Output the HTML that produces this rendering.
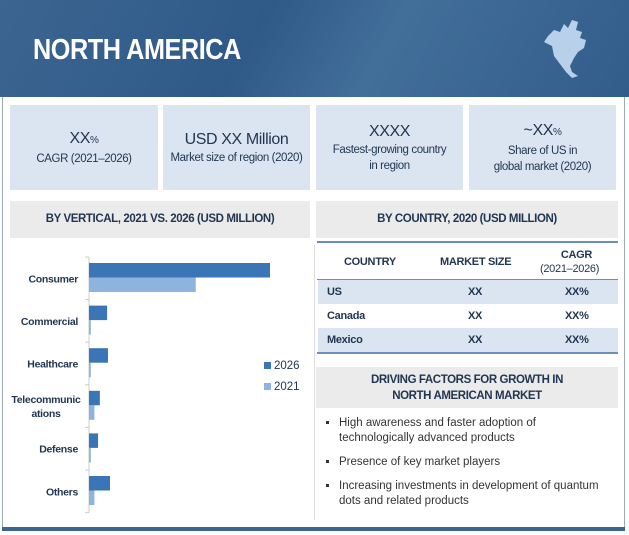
<!DOCTYPE html>
<html><head><meta charset="utf-8"><style>
body{margin:0;width:629px;height:535px;background:#fff;font-family:"Liberation Sans",sans-serif;position:relative;overflow:hidden;color:#1f3550}
.abs{position:absolute}
.kpi{position:absolute;top:105px;height:85px;background:#dbe5f1;text-align:center;color:#1f3550;font-size:11.5px;letter-spacing:-0.4px;line-height:16px;display:flex;flex-direction:column;justify-content:center;white-space:nowrap}
.sec{position:absolute;background:#ebebeb;text-align:center;font-weight:bold;font-size:11.5px;letter-spacing:-0.4px;color:#1f3550}
.row{position:absolute;left:318px;width:300px;height:24px;font-size:11px;font-weight:bold;line-height:24px;letter-spacing:-0.3px}
.row span{position:absolute}
li{margin-bottom:9px}
</style></head><body>
<div class="abs" style="left:0;top:0;width:629px;height:97px;background:linear-gradient(120deg,#3c6591 0%,#2f5a88 40%,#426e9a 60%,#325d8b 100%)">
<div class="abs" style="left:33px;top:34px;color:#fff;font-weight:bold;font-size:29px;letter-spacing:-0.5px;transform:scaleX(0.87);transform-origin:left">NORTH AMERICA</div>
<svg class="abs" style="left:540px;top:14px" width="55" height="70"><path d="M8 22 L14 16 L20 18 L24 10 L28 14 L32 6 L38 8 L36 16 L42 18 L40 24 L46 26 L44 34 L38 38 L34 44 L30 52 L32 58 L38 62 L32 64 L26 58 L20 50 L14 42 L12 32 L4 28 Z" fill="#b8d0ea"/></svg>
</div>
<div class="abs" style="left:2px;top:97px;width:621px;height:430px;border-left:1px solid #9ab;border-right:1px solid #9ab"></div>
<div class="abs" style="left:2px;top:527px;width:623px;height:4px;background:#3a6591"></div>

<div class="kpi" style="left:10px;width:148px"><div style="font-size:16px;line-height:20px">XX<span style="font-size:10px">%</span></div><div>CAGR (2021–2026)</div></div>
<div class="kpi" style="left:163px;width:147px"><div style="font-size:16px;line-height:20px">USD XX Million</div><div>Market size of region (2020)</div></div>
<div class="kpi" style="left:316px;width:147px"><div style="font-size:16px;line-height:20px">XXXX</div><div>Fastest-growing country<br>in region</div></div>
<div class="kpi" style="left:469px;width:147px"><div style="font-size:16px;line-height:20px">~XX<span style="font-size:10px">%</span></div><div>Share of US in<br>global market (2020)</div></div>

<div class="sec" style="left:10px;top:201px;width:300px;height:37px;line-height:37px">BY VERTICAL, 2021 VS. 2026 (USD MILLION)</div>
<div class="sec" style="left:316px;top:201px;width:302px;height:37px;line-height:37px">BY COUNTRY, 2020 (USD MILLION)</div>
<div class="abs" style="left:314px;top:245px;width:1px;height:275px;background:#ddd"></div>

<svg class="abs" id="chart" style="left:0;top:240px" width="312" height="285"></svg>

<div class="abs" style="left:317px;top:241px;width:301px;height:2px;background:#6b8fb8"></div>
<div class="row" style="top:243px;height:37px;line-height:14px"><span style="left:26px;top:12px">COUNTRY</span><span style="left:122px;top:12px">MARKET SIZE</span><span style="left:222px;top:5px;text-align:center;font-weight:normal;font-size:11px">&nbsp;&nbsp;&nbsp;&nbsp;&nbsp;<b>CAGR</b><br>(2021–2026)</span></div>
<div class="abs" style="left:317px;top:279px;width:301px;height:1px;background:#6b8fb8"></div>
<div class="row" style="top:280px;background:#dbe5f1"><span style="left:9px">US</span><span style="left:150px">XX</span><span style="left:247px">XX%</span></div>
<div class="row" style="top:304px"><span style="left:9px">Canada</span><span style="left:150px">XX</span><span style="left:247px">XX%</span></div>
<div class="row" style="top:328px;background:#dbe5f1"><span style="left:9px">Mexico</span><span style="left:150px">XX</span><span style="left:247px">XX%</span></div>
<div class="abs" style="left:317px;top:352px;width:301px;height:2px;background:#6b8fb8"></div>

<div class="sec" style="left:316px;top:367px;width:302px;height:41px;line-height:16px;display:flex;align-items:center;justify-content:center">DRIVING FACTORS FOR GROWTH IN<br>NORTH AMERICAN MARKET</div>
<ul class="abs" style="left:307px;top:416px;width:262px;margin:0;padding-left:32px;font-size:11.5px;line-height:15px;color:#333;list-style:square">
<li>High awareness and faster adoption of technologically advanced products</li>
<li>Presence of key market players</li>
<li style="width:272px">Increasing investments in development of quantum dots and related products</li>
</ul>

<script>
const categories=["Consumer","Commercial","Healthcare","Telecommunications","Defense","Others"];
const values2026=[100,10,10.5,6,5,11.6];
const values2021=[59,1,1,3,1,3];
const seriesNames=["2026","2021"];
const svg=document.getElementById('chart');
const NS='http://www.w3.org/2000/svg';
const x0=89,xScale=v=>x0+v*1.81;
const top0=17,slot=42.6,yBand=i=>top0+i*slot;
function mk(t,a){const e=document.createElementNS(NS,t);for(const k in a)e.setAttribute(k,a[k]);svg.appendChild(e);return e;}
const ax=mk('line',{x1:x0,x2:x0,y1:top0,y2:top0+slot*6,stroke:'#ccc'});


for(let i=0;i<=6;i++){const t=mk('line',{x1:x0-4,x2:x0,y1:yBand(i),y2:yBand(i),stroke:'#ccc'});

}
categories.forEach((c,i)=>{
 const y=yBand(i);
 const b1=mk('rect',{x:x0,y:y+6,width:xScale(values2026[i])-x0,height:14.5,fill:'#3a76b5'});
 
 
 const b2=mk('rect',{x:x0,y:y+20.5,width:xScale(values2021[i])-x0,height:14.5,fill:'#8db3de'});
 
 
 const lines=c==="Telecommunications"?["Telecommunic","ations"]:[c];
 lines.forEach((ln,j)=>{
  const t=mk('text',{x:lines.length>1?46:78,y:y+slot/2+4+(j-(lines.length-1)/2)*14,'text-anchor':lines.length>1?'middle':'end','font-size':'10.5','font-weight':'bold','letter-spacing':'-0.3',fill:'#1f3550','font-family':'Liberation Sans, sans-serif'});
  t.textContent=ln;
  
  
 });
});
seriesNames.forEach((s,i)=>{
 const r=mk('rect',{x:264,y:122+i*21,width:7,height:7,fill:i?'#8db3de':'#3a76b5'});
 
 
 const t=mk('text',{x:274,y:129+i*21,'font-size':'11.5',fill:'#1f3550','font-family':'Liberation Sans, sans-serif'});
 t.textContent=s;
 
 
});
</script>
</body></html>
